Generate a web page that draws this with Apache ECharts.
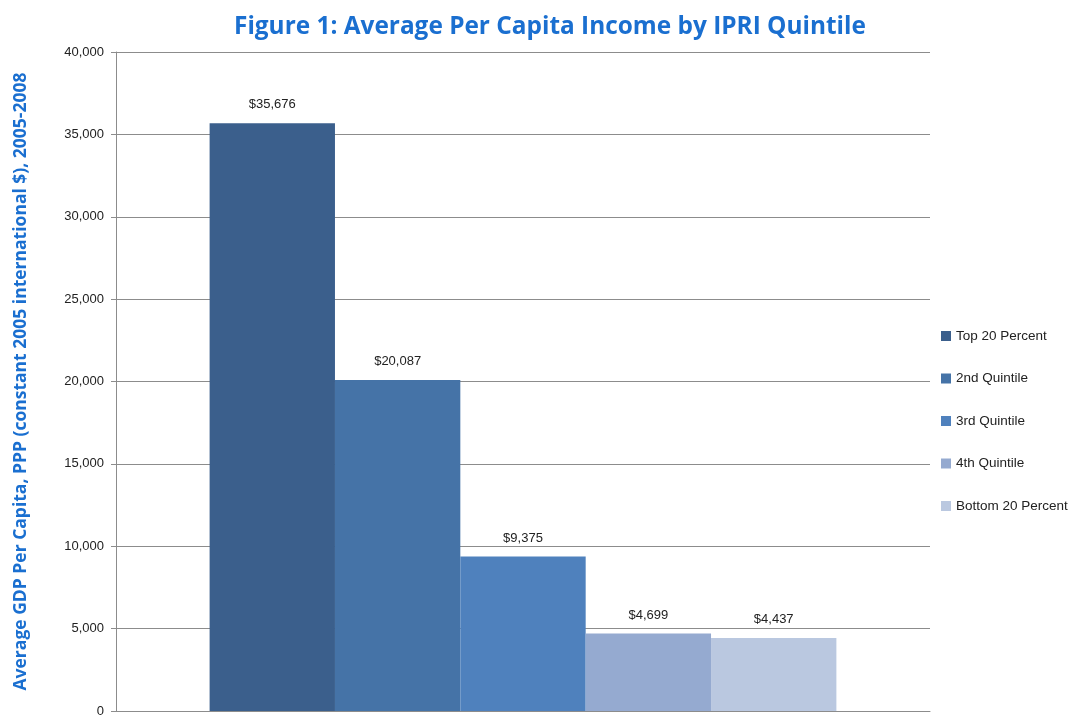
<!DOCTYPE html>
<html>
<head>
<meta charset="utf-8">
<script src="https://cdn.jsdelivr.net/npm/echarts@6/dist/echarts.min.js"></script>
<style>html,body{margin:0;padding:0;background:#fff;}#c{width:1077px;height:715px;}</style>
</head>
<body>
<div id="c"></div>
<script>
const titleText = 'Figure 1: Average Per Capita Income by IPRI Quintile';
const yAxisName = 'Average GDP Per Capita, PPP (constant 2005 international $), 2005-2008';
const categories = [''];
const seriesNames = ['Top 20 Percent', '2nd Quintile', '3rd Quintile', '4th Quintile', 'Bottom 20 Percent'];
const seriesValues = [35676, 20087, 9375, 4699, 4437];
const colors = ['#3b5f8c', '#4573a7', '#4f81bd', '#95aad0', '#bac8e0'];

const chart = echarts.init(document.getElementById('c'), null, {renderer: 'canvas'});
const series = seriesNames.map((n, i) => ({
  name: n,
  type: 'bar',
  data: [seriesValues[i]],
  barGap: '0%',
  barCategoryGap: '23%',
  itemStyle: {color: colors[i]},
  label: {
    show: true, position: 'top', distance: 12,
    color: '#222', fontSize: 13, fontFamily: 'Liberation Sans, Arial, sans-serif',
    formatter: p => '$' + p.value.toLocaleString('en-US')
  }
}));
chart.setOption({
  animation: false,
  backgroundColor: '#fff',
  title: {
    text: titleText, left: 229, top: 10,
    textStyle: {color: '#1a6fd0', fontSize: 24.4, fontWeight: 'bold', fontFamily: 'Open Sans, sans-serif'}
  },
  legend: {
    orient: 'vertical', left: 936, top: 324,
    itemWidth: 10, itemHeight: 10, itemGap: 28.5,
    icon: 'rect',
    textStyle: {color: '#222', fontSize: 13.5, fontFamily: 'Liberation Sans, Arial, sans-serif'},
    data: seriesNames
  },
  grid: {left: 116, right: 147, top: 52, bottom: 4, containLabel: false, outerBoundsMode: 'none'},
  xAxis: {
    type: 'category', data: categories,
    axisLine: {lineStyle: {color: '#8c8c8c'}},
    axisTick: {show: false},
    axisLabel: {show: false}
  },
  yAxis: {
    type: 'value', min: 0, max: 40000, interval: 5000,
    name: yAxisName, nameLocation: 'middle', nameGap: 86, nameRotate: 90,
    nameTextStyle: {color: '#1a6fd0', fontSize: 17.5, fontWeight: 'bold', fontFamily: 'Open Sans, sans-serif'},
    axisLine: {show: true, lineStyle: {color: '#8c8c8c'}},
    axisTick: {show: true, length: 5, lineStyle: {color: '#8c8c8c'}},
    axisLabel: {color: '#222', fontSize: 13, margin: 12, fontFamily: 'Liberation Sans, Arial, sans-serif',
      formatter: v => v.toLocaleString('en-US')},
    splitLine: {lineStyle: {color: '#8c8c8c'}}
  },
  series: series
});
</script>
</body>
</html>
